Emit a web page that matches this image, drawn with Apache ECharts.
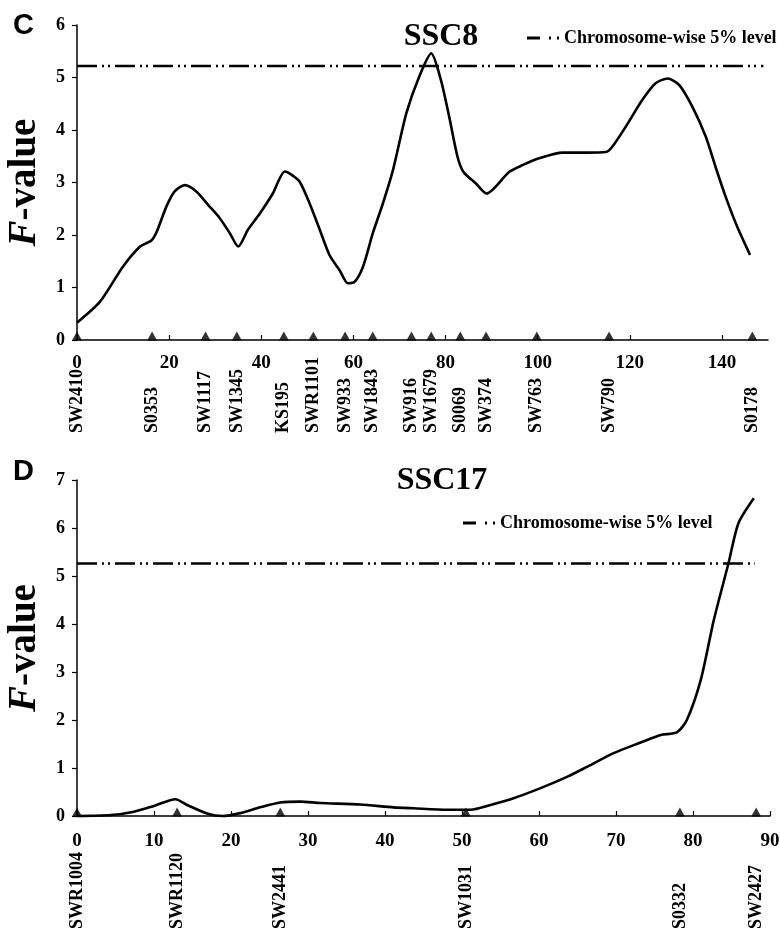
<!DOCTYPE html>
<html><head><meta charset="utf-8">
<script src="https://cdn.jsdelivr.net/npm/echarts@6/dist/echarts.min.js"></script>
<style>html,body{margin:0;padding:0;background:#fff}#c{width:780px;height:934px}</style>
</head><body><div id="c"></div>
<script>
// ---- SSC8 (panel C) ----
const ssc8Pos = [0, 5.0, 10.0, 13.7, 16.2, 17.3, 19.4, 21.2, 23.4, 25.9, 28.5, 31.0, 33.2, 35.0, 37.1, 39.7, 42.5, 45.1, 46.2, 48.3, 50.5, 52.7, 54.8, 57.0, 58.8, 60.3, 62.1, 64.2, 66.4, 68.6, 71.5, 74.3, 76.9, 79.0, 80.8, 82.6, 83.9, 86.6, 88.9, 93.8, 96.7, 100.3, 105.4, 110.5, 114.8, 116.2, 119.1, 122.7, 125.6, 128.2, 130.7, 133.6, 136.5, 138.6, 140.8, 143.3, 146.1];
const ssc8F = [0.33, 0.73, 1.40, 1.78, 1.90, 2.06, 2.54, 2.83, 2.95, 2.83, 2.57, 2.32, 2.03, 1.78, 2.10, 2.41, 2.79, 3.21, 3.17, 3.02, 2.60, 2.10, 1.62, 1.33, 1.08, 1.11, 1.40, 2.03, 2.60, 3.24, 4.32, 5.02, 5.46, 4.95, 4.25, 3.49, 3.20, 2.98, 2.79, 3.20, 3.33, 3.46, 3.57, 3.57, 3.58, 3.68, 4.06, 4.57, 4.89, 4.98, 4.86, 4.44, 3.87, 3.30, 2.73, 2.16, 1.62];
const ssc8MarkerNames = ['SW2410', 'S0353', 'SW1117', 'SW1345', 'KS195', 'SWR1101', 'SW933', 'SW1843', 'SW916', 'SW1679', 'S0069', 'SW374', 'SW763', 'SW790', 'S0178'];
const ssc8MarkerPos = [0, 16.3, 27.9, 34.7, 44.9, 51.3, 58.2, 64.2, 72.6, 76.9, 83.2, 88.8, 99.8, 115.5, 146.6];
const ssc8XTicks = [0, 20, 40, 60, 80, 100, 120, 140];
const ssc8YTicks = [0, 1, 2, 3, 4, 5, 6];
const ssc8Threshold = 5.22;
const ssc8ThresholdSpan = [0, 149];

// ---- SSC17 (panel D) ----
const ssc17Pos = [0, 4.4, 7.4, 10.0, 12.8, 14.3, 17.1, 18.9, 21.2, 23.8, 26.4, 29.0, 31.6, 36.8, 41.1, 43.7, 48.1, 51.1, 53.7, 56.7, 60.2, 63.7, 66.3, 69.7, 73.2, 75.8, 77.9, 79.2, 81.0, 82.7, 84.6, 85.9, 87.9];
const ssc17F = [0.0, 0.02, 0.09, 0.21, 0.35, 0.23, 0.04, 0.0, 0.06, 0.18, 0.28, 0.30, 0.27, 0.24, 0.18, 0.16, 0.13, 0.13, 0.23, 0.37, 0.58, 0.82, 1.03, 1.31, 1.53, 1.69, 1.74, 2.0, 2.83, 4.08, 5.26, 6.10, 6.62];
const ssc17MarkerNames = ['SWR1004', 'SWR1120', 'SW2441', 'SW1031', 'S0332', 'SW2427'];
const ssc17MarkerPos = [0, 13.0, 26.4, 50.5, 78.3, 88.2];
const ssc17XTicks = [0, 10, 20, 30, 40, 50, 60, 70, 80, 90];
const ssc17YTicks = [0, 1, 2, 3, 4, 5, 6, 7];
const ssc17Threshold = 5.26;
const ssc17ThresholdSpan = [0, 88];

const panelLetters = ['C', 'D'];
const panelTitles = ['SSC8', 'SSC17'];
const thresholdName = 'Chromosome-wise 5% level';
const yName = '{i|F}-value';

const SERIF = "'Liberation Serif','Times New Roman',serif";
const BLACK = '#000';

function zip(a, b) { return a.map((v, i) => [v, b[i]]); }

const chart = echarts.init(document.getElementById('c'), null, {renderer: 'canvas'});

function xMain(gi, max, ticks, margin) {
  return {
    type: 'value', gridIndex: gi, min: 0, max: max, position: 'bottom',
    axisLine: {show: true, onZero: false, lineStyle: {color: BLACK, width: 1.5}},
    axisTick: {show: true, inside: true, length: 5, customValues: ticks, lineStyle: {color: BLACK, width: 1.2}},
    axisLabel: {show: true, customValues: ticks, margin: margin, color: BLACK, fontFamily: SERIF, fontWeight: 'bold', fontSize: 19},
    splitLine: {show: false}
  };
}
function xMarker(gi, max, pos, names, margin) {
  return {
    type: 'value', gridIndex: gi, min: 0, max: max, position: 'bottom',
    axisLine: {show: false}, axisTick: {show: false}, splitLine: {show: false},
    axisLabel: {
      show: true, customValues: pos, rotate: 90, align: 'left', verticalAlign: 'middle', margin: margin,
      color: BLACK, fontFamily: SERIF, fontWeight: 'bold', fontSize: 18,
      formatter: function (v) { const i = pos.indexOf(v); return i >= 0 ? names[i] : ''; }
    }
  };
}
function yAx(gi, max, ticks) {
  return {
    type: 'value', gridIndex: gi, min: 0, max: max, interval: 1,
    axisLine: {show: true, lineStyle: {color: BLACK, width: 1.5}},
    axisTick: {show: true, inside: false, length: 5, lineStyle: {color: BLACK, width: 1.2}},
    axisLabel: {show: true, margin: 12, color: BLACK, fontFamily: SERIF, fontWeight: 'bold', fontSize: 18,
      customValues: ticks},
    splitLine: {show: false},
    name: yName, nameLocation: 'middle', nameGap: 33, nameRotate: 90,
    nameTextStyle: {color: BLACK, fontFamily: SERIF, fontWeight: 'bold', fontSize: 39,
      rich: {i: {fontStyle: 'italic', fontFamily: SERIF, fontWeight: 'bold', fontSize: 39, color: BLACK}}}
  };
}
function curve(xi, yi, data) {
  return {type: 'line', xAxisIndex: xi, yAxisIndex: yi, data: data, showSymbol: false, symbol: 'none',
    smooth: 0.25, clip: false, lineStyle: {color: BLACK, width: 2.6}, itemStyle: {color: BLACK}, z: 5, silent: true};
}
function thresh(xi, yi, span, val) {
  return {type: 'line', name: thresholdName, xAxisIndex: xi, yAxisIndex: yi,
    data: span.map(x => [x, val]), showSymbol: false, symbol: 'none', clip: false,
    lineStyle: {color: BLACK, width: 2.5, type: [20, 5, 2, 4, 2, 5]}, itemStyle: {color: BLACK}, z: 4, silent: true};
}
function markers(xi, yi, pos) {
  return {type: 'scatter', xAxisIndex: xi, yAxisIndex: yi, data: pos.map(p => [p, 0]),
    symbol: 'triangle', symbolSize: [10, 9], symbolOffset: [0, -4], clip: false,
    itemStyle: {color: BLACK}, z: 6, silent: true};
}
const legendIcon = 'path://M0,0H13V3H0Z M22,0H24V3H22Z M30,0H32V3H30Z';
function legend(left, top) {
  return {show: true, left: left, top: top, orient: 'horizontal', itemWidth: 32, itemHeight: 3,
    data: [{name: thresholdName, icon: legendIcon}], selectedMode: false,
    itemStyle: {color: BLACK, borderWidth: 0}, lineStyle: {width: 0},
    textStyle: {color: BLACK, fontFamily: SERIF, fontWeight: 'bold', fontSize: 18}};
}

chart.setOption({
  animation: false,
  backgroundColor: '#fff',
  title: [
    {text: panelLetters[0], left: 8, top: 6, textStyle: {fontFamily: "'Liberation Sans',Arial,sans-serif", fontWeight: 'bold', fontSize: 29, color: BLACK}},
    {text: panelLetters[1], left: 8, top: 452, textStyle: {fontFamily: "'Liberation Sans',Arial,sans-serif", fontWeight: 'bold', fontSize: 29, color: BLACK}},
    {text: panelTitles[0], left: 436, textAlign: 'center', top: 16, textStyle: {fontFamily: SERIF, fontWeight: 'bold', fontSize: 32, color: BLACK}},
    {text: panelTitles[1], left: 437, textAlign: 'center', top: 460, textStyle: {fontFamily: SERIF, fontWeight: 'bold', fontSize: 32, color: BLACK}}
  ],
  legend: [legend(522, 24), legend(458, 509)],
  grid: [
    {left: 77, top: 25, width: 691, height: 315, outerBoundsMode: 'none', containLabel: false},
    {left: 77, top: 480, width: 693, height: 336, outerBoundsMode: 'none', containLabel: false}
  ],
  xAxis: [
    xMain(0, 150, ssc8XTicks, 14),
    xMarker(0, 150, ssc8MarkerPos, ssc8MarkerNames, 93),
    xMain(1, 90, ssc17XTicks, 16),
    xMarker(1, 90, ssc17MarkerPos, ssc17MarkerNames, 113)
  ],
  yAxis: [yAx(0, 6, ssc8YTicks), yAx(1, 7, ssc17YTicks)],
  series: [
    thresh(0, 0, ssc8ThresholdSpan, ssc8Threshold),
    curve(0, 0, zip(ssc8Pos, ssc8F)),
    markers(0, 0, ssc8MarkerPos),
    thresh(2, 1, ssc17ThresholdSpan, ssc17Threshold),
    curve(2, 1, zip(ssc17Pos, ssc17F)),
    markers(2, 1, ssc17MarkerPos)
  ]
});
</script>
</body></html>
